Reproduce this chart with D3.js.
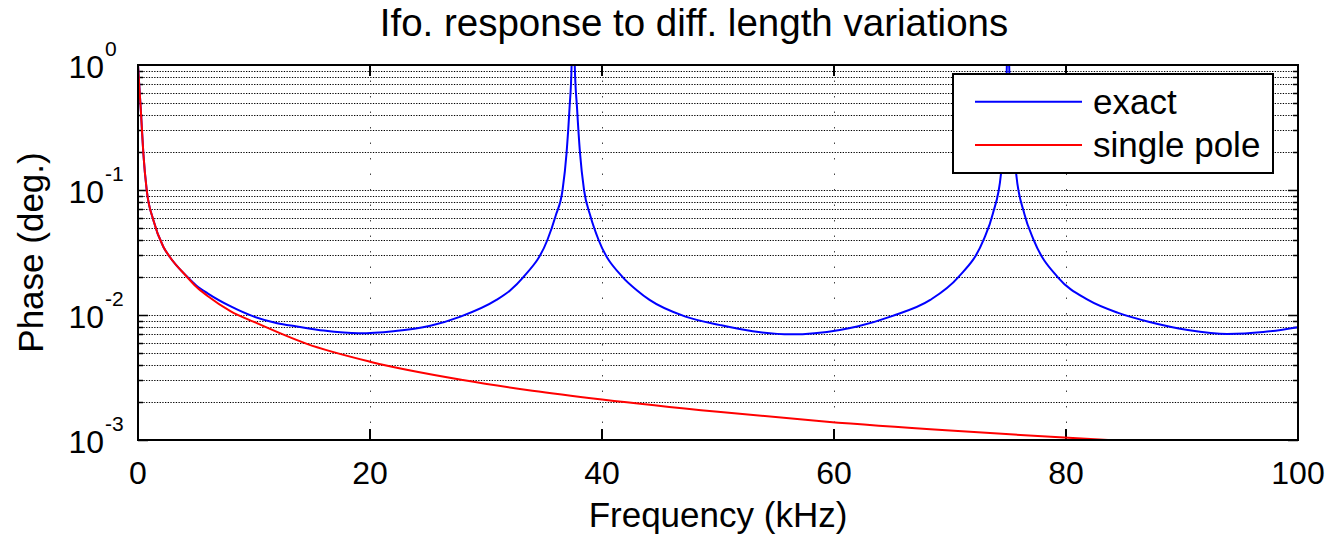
<!DOCTYPE html>
<html>
<head>
<meta charset="utf-8">
<script src="https://cdn.jsdelivr.net/npm/d3@7"></script>
<style>
  body { margin: 0; background: #fff; }
  svg { font-family: "Liberation Sans", Arial, Helvetica, sans-serif; }
</style>
</head>
<body>
<div id="chart"></div>
<script>
// exact response (blue)
var freqExact = [0, 0.26, 0.46, 0.75, 1.32, 2.18, 2.76, 4.2, 5, 6, 8, 10, 12, 13.7, 16, 19, 22, 25.2, 27.8, 30.9, 32.1, 33.2, 35.3, 36.0, 36.6, 36.95, 37.2, 37.38, 37.5, 37.65, 37.85, 38.1, 38.45, 39.0, 39.7, 41.8, 43.0, 44.1, 47.2, 50.2, 53, 56.3, 60.5, 62.0, 65, 68.3, 70.7, 72.9, 73.7, 74.4, 74.75, 74.9, 75.0, 75.1, 75.3, 75.7, 76.4, 77.2, 79.3, 81.9, 84.5, 87.2, 90.5, 93.9, 97, 100];
var phaseExact = [1, 0.41, 0.197, 0.1, 0.0575, 0.0352, 0.029, 0.0204, 0.0173, 0.0149, 0.0117, 0.0097, 0.0086, 0.0081, 0.0075, 0.00713, 0.0074, 0.0082, 0.0097, 0.0132, 0.0158, 0.020, 0.040, 0.062, 0.10, 0.2, 0.45, 1.0, 5, 1.0, 0.45, 0.2, 0.1, 0.062, 0.040, 0.020, 0.0158, 0.0132, 0.0097, 0.0083, 0.0074, 0.0070, 0.0076, 0.0081, 0.0098, 0.0132, 0.020, 0.040, 0.065, 0.136, 0.4, 1.0, 5, 1.0, 0.4, 0.136, 0.065, 0.040, 0.020, 0.0132, 0.0104, 0.0088, 0.0076, 0.00705, 0.0073, 0.0080];

// single pole approximation (red)
var freqPole = [0, 0.26, 0.46, 0.75, 1.32, 2.18, 2.76, 4.2, 5, 6, 8, 10, 14.5, 20, 28, 34, 40, 50, 59.4, 70, 78.7, 84, 88];
var phasePole = [1, 0.41, 0.197, 0.1, 0.0575, 0.0352, 0.029, 0.0203, 0.0169, 0.0142, 0.0107, 0.0088, 0.0059, 0.00423, 0.00302, 0.00248, 0.00211, 0.00168, 0.0014, 0.00119, 0.00106, 0.000995, 0.00095];

var xTicks = [0, 20, 40, 60, 80, 100];
var yExponents = [0, -1, -2, -3];
var legendLabels = ["exact", "single pole"];
var titleText = "Ifo. response to diff. length variations";
var xLabel = "Frequency (kHz)";
var yLabel = "Phase (deg.)";

var W = 1333, H = 537;
var margin = { top: 65, right: 35, bottom: 97, left: 138 },
  width = W - margin.left - margin.right,
  height = H - margin.top - margin.bottom;

var x = d3.scaleLinear().domain([0, 100]).range([0, width]);
var y = d3.scaleLog().domain([1e-3, 1]).range([height, 0]);

var svg = d3.select("#chart").append("svg")
  .attr("width", W).attr("height", H);

var g = svg.append("g")
  .attr("transform", "translate(" + margin.left + "," + margin.top + ")");

g.append("clipPath").attr("id", "clip")
  .append("rect").attr("width", width).attr("height", height);

// minor + major horizontal grid values
var yGrid = [];
for (var e = -3; e < 0; e++) {
  for (var m = 1; m <= 9; m++) yGrid.push(m * Math.pow(10, e));
}
var snap = function(v) { return Math.round(v) + 0.5; };

// horizontal dotted grid
g.selectAll(".hgrid").data(yGrid.filter(function(v) { return v > 1e-3; }))
  .enter().append("line")
  .attr("x1", 0).attr("x2", width)
  .attr("y1", function(d) { return snap(y(d)); })
  .attr("y2", function(d) { return snap(y(d)); })
  .style("stroke", "#000")
  .style("stroke-width", 1)
  .style("stroke-dasharray", "1.3,1.4");

// vertical dotted grid
g.selectAll(".vgrid").data(xTicks.slice(1, -1))
  .enter().append("line")
  .attr("x1", function(d) { return snap(x(d)); })
  .attr("x2", function(d) { return snap(x(d)); })
  .attr("y1", 0).attr("y2", height)
  .style("stroke", "#444")
  .style("stroke-width", 1)
  .style("stroke-dasharray", "1.5,14");

// ticks inside the box
var isMajor = function(v) { return Math.abs(Math.log10(v) - Math.round(Math.log10(v))) < 1e-9; };
yGrid.forEach(function(v) {
  var len = isMajor(v) ? 10 : 5;
  g.append("line").attr("x1", 0).attr("x2", len)
    .attr("y1", snap(y(v))).attr("y2", snap(y(v))).style("stroke", "#000").style("stroke-width", 1.5);
  g.append("line").attr("x1", width - len).attr("x2", width)
    .attr("y1", snap(y(v))).attr("y2", snap(y(v))).style("stroke", "#000").style("stroke-width", 1.5);
});
xTicks.forEach(function(t) {
  g.append("line").attr("x1", x(t)).attr("x2", x(t))
    .attr("y1", height).attr("y2", height - 11).style("stroke", "#000").style("stroke-width", 2);
  g.append("line").attr("x1", x(t)).attr("x2", x(t))
    .attr("y1", 0).attr("y2", 11).style("stroke", "#000").style("stroke-width", 2);
});

// curves
var curveLine = d3.line()
  .x(function(d) { return x(d[0]); })
  .y(function(d) { return y(d[1]); })
  .curve(d3.curveMonotoneX);

var plot = g.append("g").attr("clip-path", "url(#clip)");

plot.append("path")
  .datum(d3.zip(freqExact, phaseExact))
  .attr("d", curveLine)
  .style("fill", "none").style("stroke", "#0000ff").style("stroke-width", 2);

plot.append("path")
  .datum(d3.zip(freqPole, phasePole))
  .attr("d", curveLine)
  .style("fill", "none").style("stroke", "#ff0000").style("stroke-width", 2);

// box
g.append("rect").attr("width", width).attr("height", height)
  .style("fill", "none").style("stroke", "#000").style("stroke-width", 2);

// x tick labels
g.selectAll(".xlab").data(xTicks).enter().append("text")
  .attr("x", function(d) { return x(d); })
  .attr("y", height + 44)
  .attr("text-anchor", "middle")
  .style("font-size", "32px")
  .text(function(d) { return d; });

// y tick labels 10^n
yExponents.forEach(function(p) {
  var yy = y(Math.pow(10, p));
  g.append("text").attr("x", -34).attr("y", yy + 13)
    .attr("text-anchor", "end").style("font-size", "32px").text("10");
  g.append("text").attr("x", -33).attr("y", yy - 9)
    .attr("text-anchor", "start").style("font-size", "21px").text(p);
});

// titles
svg.append("text").attr("x", 694).attr("y", 36)
  .attr("text-anchor", "middle").style("font-size", "38.5px").text(titleText);
svg.append("text").attr("x", margin.left + width / 2).attr("y", 527)
  .attr("text-anchor", "middle").style("font-size", "35px").text(xLabel);
svg.append("text")
  .attr("transform", "translate(43," + (margin.top + height / 2) + ") rotate(-90)")
  .attr("text-anchor", "middle").style("font-size", "35px").text(yLabel);

// legend
var leg = svg.append("g");
leg.append("rect").attr("x", 953).attr("y", 74).attr("width", 320).attr("height", 99)
  .style("fill", "#fff").style("stroke", "#000").style("stroke-width", 2);
var legColors = ["#0000ff", "#ff0000"];
legendLabels.forEach(function(lab, i) {
  var ly = 101.7 + i * 43.3;
  leg.append("line").attr("x1", 975).attr("x2", 1082).attr("y1", ly).attr("y2", ly)
    .style("stroke", legColors[i]).style("stroke-width", 2);
  leg.append("text").attr("x", 1093).attr("y", ly + 12)
    .style("font-size", "35px").text(lab);
});
</script>
</body>
</html>
